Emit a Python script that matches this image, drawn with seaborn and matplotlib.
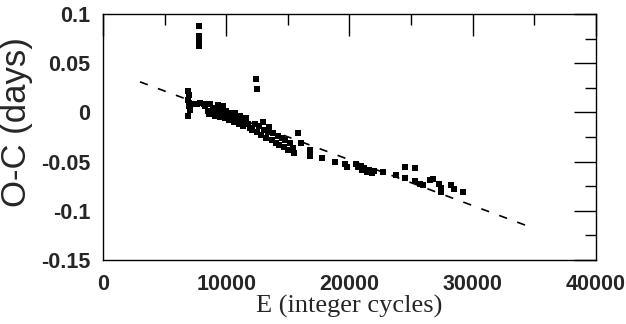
import numpy as np
import pandas as pd
import matplotlib
matplotlib.use("Agg")
import matplotlib.pyplot as plt
from matplotlib.ticker import MultipleLocator, FixedLocator, FuncFormatter
import seaborn as sns

epoch = [
    6900, 6950, 6900, 7000, 6950, 7050, 6900,
    7300, 7600, 7900, 8200,
    7800, 7800, 7800, 7800,
    8300, 8500, 8600, 8700, 8900, 9000, 9100, 9200, 9300, 9400,
    9500, 9600, 9700, 9800, 9900, 10000, 10100, 10200, 10300,
    10500, 10600, 10700, 10900, 11000, 11100, 11300, 11400, 11600, 11800, 11900,
    12400, 12500,
    12100, 12300, 12500, 12700, 12800, 13000, 13100, 13200, 13400, 13500,
    13700, 13800, 14000,
    14200, 14300, 14500, 14700, 14800, 15000, 15200, 15400, 15500, 15800,
    16100, 16800, 16800, 17800, 18800, 19600, 19800,
    20500, 20700, 20900, 21000, 21200, 21400, 21600, 21800, 22000, 22700,
    23800, 24500, 25300, 24500, 25300, 25700, 26000, 26500, 26800,
    27300, 27400, 27400, 28200, 28500, 29200,
]
oc = [
    0.022, 0.018, 0.013, 0.010, 0.006, 0.002, -0.004,
    0.009, 0.008, 0.010, 0.009,
    0.088, 0.078, 0.072, 0.067,
    0.006, 0.001, -0.002, 0.008, 0.004, 0.000, -0.004, 0.003, 0.007, -0.001,
    -0.005, 0.002, 0.006, -0.002, -0.006, 0.001, -0.004, -0.008, -0.001,
    -0.004, -0.010, -0.001, -0.007, -0.012, -0.004, -0.009, -0.014, -0.006, -0.012, -0.016,
    0.034, 0.024,
    -0.018, -0.012, -0.020, -0.014, -0.023, -0.010, -0.018, -0.026, -0.020, -0.015,
    -0.028, -0.021, -0.031,
    -0.024, -0.033, -0.026, -0.035, -0.028, -0.038, -0.031, -0.036, -0.041, -0.021,
    -0.031, -0.038, -0.044, -0.046, -0.050, -0.052, -0.055,
    -0.052, -0.056, -0.054, -0.059, -0.057, -0.061, -0.059, -0.062, -0.060, -0.061,
    -0.064, -0.055, -0.057, -0.067, -0.070, -0.073, -0.074, -0.069, -0.068,
    -0.073, -0.077, -0.081, -0.074, -0.078, -0.081,
]

# linear ephemeris fit (dashed)
fit_epoch = [3000, 35000]
fit_oc = [0.031, -0.118]

df = pd.DataFrame({"E": epoch, "OC": oc})
fit = pd.DataFrame({"E": fit_epoch, "OC": fit_oc})

sns.set_style("white")
plt.rcParams['font.family'] = ['Liberation Sans', 'DejaVu Sans']

fig = plt.figure(figsize=(6.26, 3.24), dpi=100)
ax = fig.add_axes([0.1645, 0.1975, 0.7875, 0.7595])

ax.plot(fit["E"], fit["OC"], color="black", lw=1.2, dashes=(5, 6.5))
sns.scatterplot(x="E", y="OC", data=df, marker="s", s=20, color="black",
                linewidth=0, ax=ax)

ax.set_xlim(0, 40000)
ax.set_ylim(-0.15, 0.1)
ax.xaxis.set_major_locator(MultipleLocator(10000))
ax.xaxis.set_minor_locator(MultipleLocator(5000))
ax.yaxis.set_major_locator(FixedLocator([-0.15, -0.1, -0.05, 0, 0.05, 0.1]))
ax.yaxis.set_minor_locator(MultipleLocator(0.025))
ax.yaxis.set_major_formatter(FuncFormatter(lambda v, p: "{:g}".format(round(v, 3)) if abs(v) > 1e-9 else "0"))
ax.xaxis.set_major_formatter(FuncFormatter(lambda v, p: "{:d}".format(int(round(v)))))

ax.tick_params(which="both", direction="in", top=True, right=True, width=1, color="black")
ax.tick_params(which="major", length=16)
ax.tick_params(which="minor", length=8)
ax.tick_params(axis="y", which="major", pad=9, labelsize=15.5)
ax.tick_params(axis="x", which="major", pad=10, labelsize=15.5)
for lab in ax.get_xticklabels() + ax.get_yticklabels():
    lab.set_fontweight("bold")

for sp in ax.spines.values():
    sp.set_color("black")
    sp.set_linewidth(1.0)

ax.set_xlabel("E (integer cycles)", family=["Liberation Serif", "DejaVu Serif"], fontsize=19, labelpad=0)
ax.set_ylabel("O-C (days)", fontsize=25)
ax.yaxis.set_label_coords(-0.142, 0.56)

fig.savefig("out.png", dpi=100, facecolor="white")
